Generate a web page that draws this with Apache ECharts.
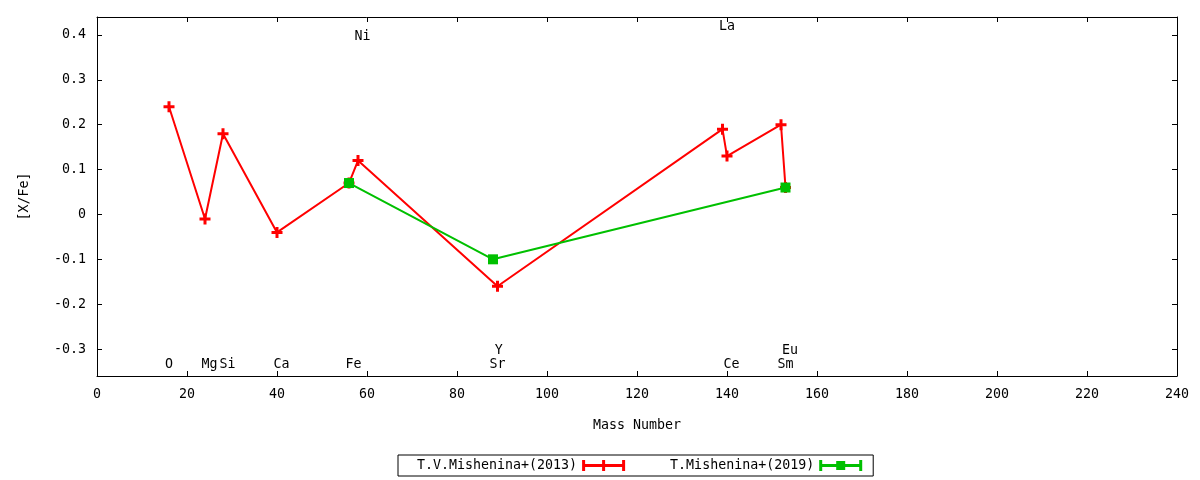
<!DOCTYPE html>
<html>
<head>
<meta charset="utf-8">
<script src="https://cdn.jsdelivr.net/npm/echarts@6/dist/echarts.min.js"></script>
<style>
  html, body { margin: 0; padding: 0; background: #fff; }
  #chart-container { width: 1200px; height: 480px; }
</style>
</head>
<body>
<div id="chart-container"></div>
<script>
// T.V.Mishenina+(2013): mass number vs [X/Fe]
const mass2013 = [16, 24, 28, 40, 56, 58, 89, 139, 140, 152, 153];
const xfe2013 = [0.24, -0.01, 0.18, -0.04, 0.07, 0.12, -0.16, 0.19, 0.13, 0.20, 0.06];

// T.Mishenina+(2019)
const mass2019 = [56, 88, 153];
const xfe2019 = [0.07, -0.10, 0.06];

// element names drawn inside the plot (data coords)
const elemNames = ['O', 'Mg', 'Si', 'Ca', 'Fe', 'Sr', 'Ce', 'Sm', 'Y', 'Eu', 'Ni', 'La'];
const elemX = [16, 25, 29, 41, 57, 89, 141, 153, 89.3, 154, 59, 140];
const elemY = [-0.334, -0.334, -0.334, -0.334, -0.334, -0.334, -0.334, -0.334, -0.303, -0.303, 0.397, 0.419];

const yTicks = [-0.3, -0.2, -0.1, 0, 0.1, 0.2, 0.3, 0.4];

const FONT = 'DejaVu Sans Mono';
const FS = 13.3;

var dom = document.getElementById("chart-container");
var myChart = echarts.init(dom, null, { renderer: "canvas" });

const zip = (xs, ys) => xs.map((x, i) => [x, ys[i]]);
const fmtY = v => (Math.abs(v) < 1e-9 ? '0' : v.toFixed(1));

const plusPath = 'path://M4 0h3v4h4v3h-4v4h-3v-4h-4v-3h4z';
const redIcon = 'path://M0 0h3v4h17v-4h3v4h17v-4h3v11h-3v-4h-17v4h-3v-4h-17v4h-3z';
const greenIcon = 'path://M0 0h3v4h14v-3h9v3h14v-4h3v11h-3v-4h-14v3h-9v-3h-14v4h-3z';

const xBase = {
  type: 'value', min: 0, max: 240, interval: 20,
  axisLine: { show: true, onZero: false, lineStyle: { color: '#000', width: 1 } },
  axisTick: { show: true, inside: true, length: 5, lineStyle: { color: '#000' } },
  splitLine: { show: false }
};
const yBase = {
  type: 'value', min: -0.36, max: 0.44,
  axisLine: { show: true, onZero: false, lineStyle: { color: '#000', width: 1 } },
  axisTick: { show: true, inside: true, length: 5, customValues: yTicks, lineStyle: { color: '#000' } },
  splitLine: { show: false }
};

var option = {
  animation: false,
  textStyle: { fontFamily: FONT, color: '#000' },
  grid: { left: 97, right: 23, top: 17, bottom: 104 },
  legend: {
    data: [
      { name: 'T.V.Mishenina+(2013)', icon: redIcon },
      { name: 'T.Mishenina+(2019)', icon: greenIcon }
    ],
    left: 398, top: 455,
    align: 'right',
    itemWidth: 43, itemHeight: 11, itemGap: 45,
    padding: [4, 11, 4, 19],
    borderColor: '#000', borderWidth: 1, borderRadius: 0,
    textStyle: { fontFamily: FONT, fontSize: FS, color: '#000' }
  },
  xAxis: [
    Object.assign({}, xBase, {
      position: 'bottom',
      name: 'Mass Number', nameLocation: 'middle', nameGap: 43,
      nameTextStyle: { fontFamily: FONT, fontSize: FS, color: '#000' },
      axisLabel: { margin: 12, fontFamily: FONT, fontSize: FS, color: '#000' }
    }),
    Object.assign({}, xBase, { position: 'top', axisLabel: { show: false } })
  ],
  yAxis: [
    Object.assign({}, yBase, {
      position: 'left',
      name: '[X/Fe]', nameLocation: 'middle', nameGap: 66, nameRotate: 90,
      nameTextStyle: { fontFamily: FONT, fontSize: FS, color: '#000' },
      axisLabel: { margin: 11, customValues: yTicks, formatter: fmtY, fontFamily: FONT, fontSize: FS, color: '#000' }
    }),
    Object.assign({}, yBase, { position: 'right', axisLabel: { show: false } })
  ],
  series: [
    {
      name: 'T.V.Mishenina+(2013)', type: 'line',
      data: zip(mass2013, xfe2013),
      symbol: plusPath, symbolSize: 11, showAllSymbol: true,
      lineStyle: { color: '#ff0000', width: 2 },
      itemStyle: { color: '#ff0000' },
      z: 3
    },
    {
      name: 'T.Mishenina+(2019)', type: 'line',
      data: zip(mass2019, xfe2019),
      symbol: 'rect', symbolSize: 10, showAllSymbol: true,
      lineStyle: { color: '#00c000', width: 2 },
      itemStyle: { color: '#00c000' },
      z: 4
    },
    {
      name: 'elements', type: 'custom', silent: true,
      data: elemNames.map((n, i) => [elemX[i], elemY[i], n]),
      renderItem: function (params, api) {
        const pt = api.coord([api.value(0), api.value(1)]);
        return {
          type: 'text', x: pt[0], y: pt[1],
          style: {
            text: elemNames[params.dataIndex],
            fill: '#000', font: FS + 'px "' + FONT + '"',
            align: 'center', verticalAlign: 'middle'
          }
        };
      },
      z: 5
    }
  ]
};

myChart.setOption(option);
window.addEventListener("resize", myChart.resize);
</script>
</body>
</html>
